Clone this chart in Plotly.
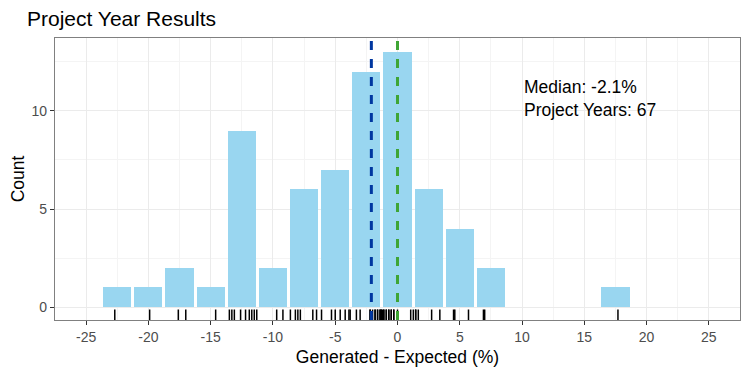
import plotly.graph_objects as go

# ---- data ----
bin_centers = [-22.5, -20, -17.5, -15, -12.5, -10, -7.5, -5, -2.5, 0, 2.5, 5, 7.5, 10, 12.5, 15, 17.5]
counts = [1, 1, 2, 1, 9, 2, 6, 7, 12, 13, 6, 4, 2, 0, 0, 0, 1]
rug_values = [
    -22.7, -19.9, -17.6, -17.0, -14.6,
    -13.5, -13.3, -13.1, -12.6, -12.2, -11.9, -11.7, -11.5, -11.3,
    -9.7, -9.2,
    -8.6, -8.2, -8.0, -7.8, -6.8, -6.5,
    -6.1, -5.3, -5.0, -4.6, -4.2, -3.9, -3.8,
    -3.3, -3.0, -2.2, -2.2, -2.0, -1.8, -1.8, -1.6, -1.6, -1.4, -1.4, -1.3, -1.3,
    -1.2, -1.1, -1.1, -0.9, -0.9, -0.7, -0.7, -0.5, -0.5, -0.3, -0.3, 0.0,
    1.06, 1.27, 1.46, 1.46, 1.67, 2.74, 3.4,
    4.5, 4.6, 5.7,
    6.9, 7.0,
    17.7,
]
median_value = -2.1
reference_value = 0
x_ticks = [-25, -20, -15, -10, -5, 0, 5, 10, 15, 20, 25]
y_ticks = [0, 5, 10]
annotation_lines = ["Median: -2.1%", "Project Years: 67"]
annotation_y = [11.2, 10.05]

font_family = "Arial, Liberation Sans, sans-serif"

# the page body adds an 8px offset; compensate in figure size and margins
W, H = 742, 367

fig = go.Figure()
fig.add_trace(go.Bar(
    x=bin_centers, y=counts, width=2.26,
    marker=dict(color="#99D6F0", line=dict(width=0)),
    hoverinfo="x+y", showlegend=False,
))
fig.add_trace(go.Scatter(
    x=rug_values, y=[-0.41] * len(rug_values), mode="markers",
    marker=dict(symbol="line-ns-open", size=8, color="black", line=dict(width=1.5, color="black")),
    showlegend=False, hoverinfo="x",
))

fig.add_vline(x=median_value, line=dict(color="#0037A0", width=3, dash="dash"))
fig.add_vline(x=reference_value, line=dict(color="#3FA535", width=3, dash="dash"))

for txt, yv in zip(annotation_lines, annotation_y):
    fig.add_annotation(x=10, y=yv, xref="x", yref="y", text=txt,
                       showarrow=False, xanchor="left", yanchor="middle",
                       font=dict(size=17.5, color="black", family=font_family))

fig.update_layout(
    width=W, height=H,
    margin=dict(l=47, r=10, t=30, b=55),
    paper_bgcolor="white", plot_bgcolor="white",
    font=dict(family=font_family),
    title=dict(text="Project Year Results", x=19 / W, xref="container", xanchor="left",
               y=1 - 11 / H, yref="container", yanchor="middle",
               font=dict(size=21, color="black", family=font_family)),
    bargap=0,
)
fig.update_xaxes(
    range=[-27.5, 27.5], tickvals=x_ticks, ticktext=[str(v) for v in x_ticks],
    showgrid=True, gridcolor="#EBEBEB", gridwidth=1,
    minor=dict(dtick=2.5, tick0=0, showgrid=True, gridcolor="#F4F4F4", gridwidth=1),
    ticks="outside", ticklen=4, tickcolor="#333333", tickwidth=1,
    tickfont=dict(size=14, color="#4D4D4D"),
    showline=True, linecolor="#808080", linewidth=1.2, mirror=True, zeroline=False,
    automargin=False,
    title=dict(text="Generated - Expected (%)", font=dict(size=17.5, color="black"), standoff=6),
)
fig.update_yaxes(
    range=[-0.66, 13.72], tickvals=y_ticks,
    showgrid=True, gridcolor="#EBEBEB", gridwidth=1,
    minor=dict(dtick=2.5, tick0=0, showgrid=True, gridcolor="#F4F4F4", gridwidth=1),
    ticks="outside", ticklen=4, tickcolor="#333333", tickwidth=1,
    tickfont=dict(size=14, color="#4D4D4D"),
    showline=True, linecolor="#808080", linewidth=1.2, mirror=True, zeroline=False,
    automargin=False,
    title=dict(text="Count", font=dict(size=17.5, color="black"), standoff=8),
)

fig.write_html("out.html")
